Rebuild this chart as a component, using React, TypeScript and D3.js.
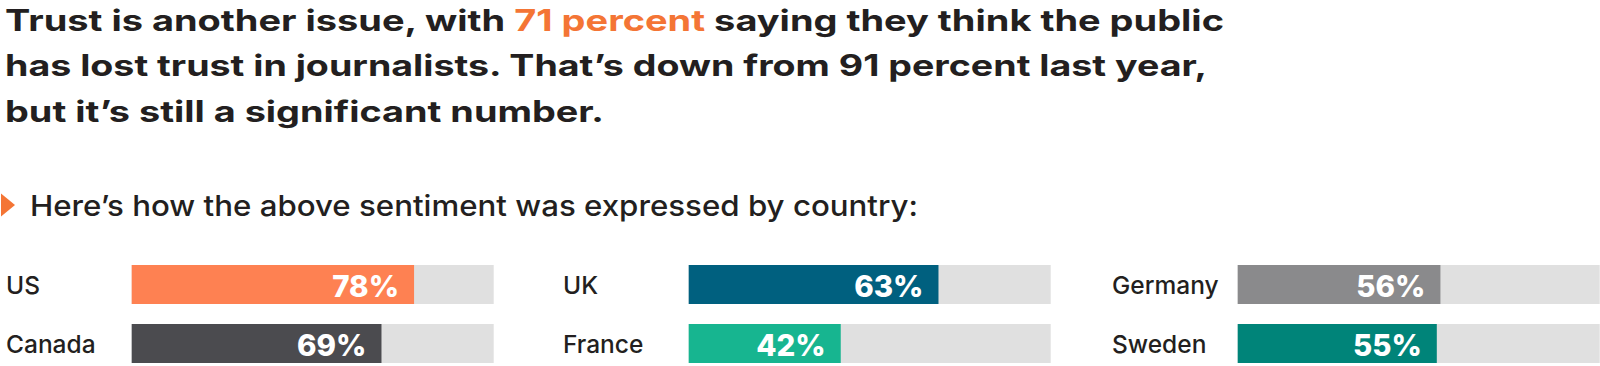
import React from "react";
import * as d3 from "d3";

const countries = ["US", "Canada", "UK", "France", "Germany", "Sweden"];
const barValues = [78, 69, 69, 42, 56, 55];
const pctLabels = ["78%", "69%", "63%", "42%", "56%", "55%"];
const barColors = ["#FE8152", "#4B4B4F", "#00607F", "#17B590", "#8A8A8C", "#008479"];
const columnOf = [0, 0, 1, 1, 2, 2];
const rowOf = [0, 1, 0, 1, 0, 1];

const titleLine1 = ["Trust is another issue, with ", "71 percent", " saying they think the public"];
const titleLine2 = "has lost trust in journalists. That\u2019s down from 91 percent last year,";
const titleLine3 = "but it\u2019s still a significant number.";
const subtitle = "Here\u2019s how the above sentiment was expressed by country:";

const FONT = "Inter, 'Open Sans', sans-serif";
const DARK = "#231F20";
const ORANGE = "#F47535";

export default function App() {
  const W = 1600;
  const H = 366;
  const colX = d3.scaleOrdinal<number, number>().domain([0, 1, 2]).range([0, 557, 1106]);
  const rowY = d3.scaleOrdinal<number, number>().domain([0, 1]).range([265, 324]);
  const barH = 39;
  const labelX = 6;
  const barX0 = 131.7;
  const x = d3.scaleLinear().domain([0, 100]).range([0, 362]);

  return (
    <svg
      width={W}
      height={H}
      style={{ position: "absolute", left: 0, top: 0, background: "#fff" }}
      fontFamily={FONT}
    >
      <text x={5} y={30.5} fontSize={29.5} fontWeight={700} fill={DARK} textLength={1219} lengthAdjust="spacingAndGlyphs">
        <tspan>{titleLine1[0]}</tspan>
        <tspan fill={ORANGE}>{titleLine1[1]}</tspan>
        <tspan>{titleLine1[2]}</tspan>
      </text>
      <text x={5} y={76} fontSize={29.5} fontWeight={700} fill={DARK} textLength={1202} lengthAdjust="spacingAndGlyphs">
        {titleLine2}
      </text>
      <text x={5} y={121.5} fontSize={29.5} fontWeight={700} fill={DARK} textLength={599} lengthAdjust="spacingAndGlyphs">
        {titleLine3}
      </text>

      <path d="M1,193.5 L15,205 L1,216.5 Z" fill={ORANGE} />
      <text x={30} y={215.5} fontSize={29} fontWeight={500} fill={DARK} textLength={888} lengthAdjust="spacingAndGlyphs">
        {subtitle}
      </text>

      {countries.map((c, i) => {
        const ox = colX(columnOf[i]);
        const y = rowY(rowOf[i]);
        const bx = ox + barX0;
        const w = x(barValues[i]);
        return (
          <g key={c}>
            <text x={ox + labelX} y={y + 29} fontSize={24.5} fontWeight={500} fill={DARK}>
              {c}
            </text>
            <rect x={bx} y={y} width={x(100)} height={barH} fill="#E0E0E0" />
            <rect x={bx} y={y} width={w} height={barH} fill={barColors[i]} />
            <text
              x={bx + w - 15}
              y={y + 31.5}
              fontSize={29.5}
              fontWeight={800}
              fill="#fff"
              textAnchor="end"
            >
              {pctLabels[i]}
            </text>
          </g>
        );
      })}
    </svg>
  );
}
